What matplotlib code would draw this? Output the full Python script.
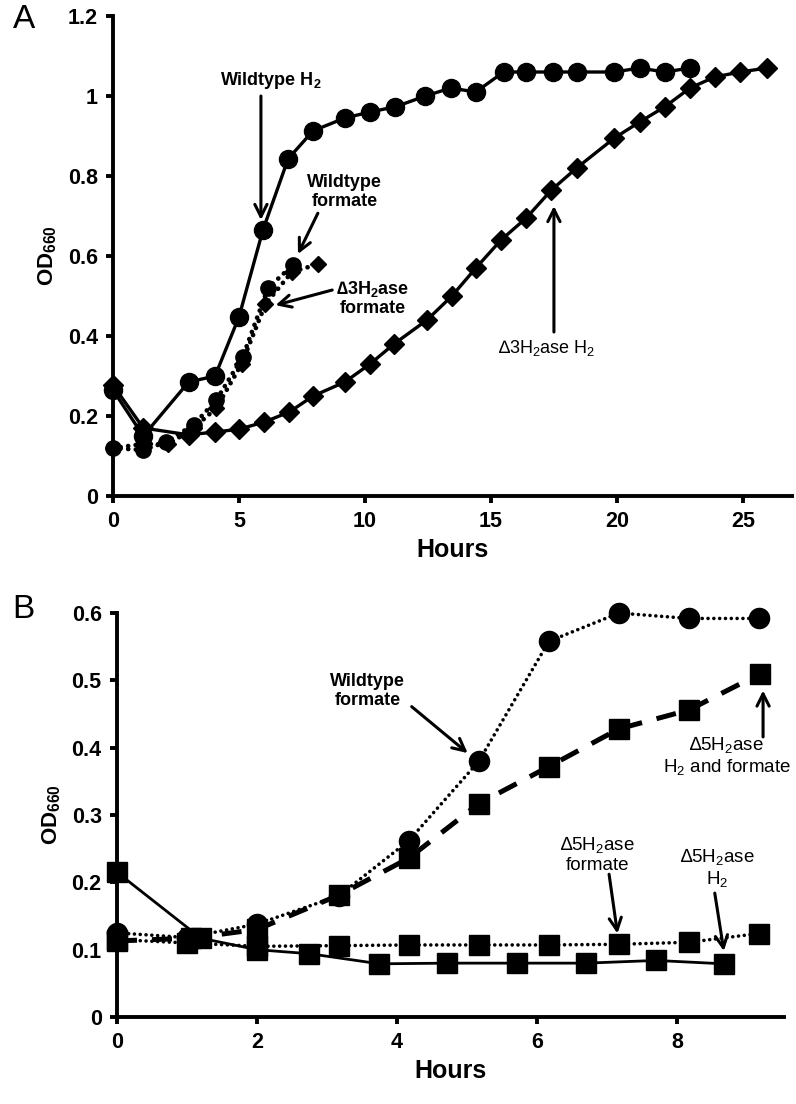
import numpy as np
import matplotlib
matplotlib.use("Agg")
import matplotlib.pyplot as plt
from matplotlib.ticker import FuncFormatter

plt.rcParams['font.family'] = ['Liberation Sans', 'DejaVu Sans']
plt.rcParams['mathtext.default'] = 'regular'

# ---- Panel A data (hours, OD660) ----
wt_h2_hours = [0, 1.2, 3.0, 4.05, 5.0, 5.95, 6.95, 7.94, 9.2, 10.2, 11.2, 12.4, 13.4, 14.4,
               15.5, 16.4, 17.45, 18.4, 19.9, 20.9, 21.9, 22.9]
wt_h2_od = [0.265, 0.15, 0.285, 0.30, 0.448, 0.665, 0.843, 0.913, 0.945, 0.96, 0.973, 1.0, 1.02, 1.01,
            1.06, 1.06, 1.06, 1.06, 1.06, 1.07, 1.06, 1.07]

d3_h2_hours = [0, 1.2, 3.0, 4.05, 5.0, 6.0, 7.0, 7.94, 9.2, 10.2, 11.15, 12.46, 13.45, 14.4, 15.4,
               16.4, 17.4, 18.4, 19.9, 20.9, 21.9, 22.9, 23.9, 24.9, 25.95]
d3_h2_od = [0.277, 0.17, 0.153, 0.16, 0.167, 0.185, 0.21, 0.25, 0.285, 0.33, 0.38, 0.44, 0.50, 0.57, 0.64,
            0.695, 0.765, 0.82, 0.895, 0.935, 0.973, 1.02, 1.048, 1.06, 1.07]

wt_fmt_hours = [0, 1.2, 2.1, 3.2, 4.1, 5.15, 6.15, 7.15]
wt_fmt_od = [0.12, 0.115, 0.135, 0.178, 0.24, 0.348, 0.52, 0.578]

d3_fmt_hours = [0, 1.2, 2.2, 3.2, 4.1, 5.1, 6.05, 7.1, 8.15]
d3_fmt_od = [0.12, 0.13, 0.13, 0.17, 0.22, 0.33, 0.48, 0.56, 0.58]

# ---- Panel B data ----
b_wt_fmt_hours = [0, 1.0, 2.0, 3.17, 4.17, 5.17, 6.17, 7.17, 8.17, 9.17]
b_wt_fmt_od = [0.125, 0.118, 0.138, 0.18, 0.262, 0.38, 0.558, 0.600, 0.592, 0.592]

b_d5_both_hours = [0, 1.05, 2.0, 3.17, 4.17, 5.17, 6.17, 7.17, 8.17, 9.19]
b_d5_both_od = [0.113, 0.117, 0.13, 0.181, 0.236, 0.317, 0.372, 0.428, 0.456, 0.51]

b_d5_fmt_hours = [0, 1.0, 2.0, 3.17, 4.17, 5.17, 6.17, 7.17, 8.17, 9.17]
b_d5_fmt_od = [0.115, 0.110, 0.105, 0.106, 0.107, 0.107, 0.107, 0.108, 0.111, 0.124]

b_d5_h2_hours = [0, 1.2, 2.0, 2.75, 3.75, 4.72, 5.72, 6.7, 7.7, 8.67]
b_d5_h2_od = [0.215, 0.117, 0.100, 0.094, 0.079, 0.080, 0.080, 0.080, 0.084, 0.079]

a_xticks = [0, 5, 10, 15, 20, 25]
a_yticks = [0, 0.2, 0.4, 0.6, 0.8, 1.0, 1.2]
b_xticks = [0, 2, 4, 6, 8]
b_yticks = [0, 0.1, 0.2, 0.3, 0.4, 0.5, 0.6]

DOT = (0, (0.01, 1.6))


def style_axes(ax):
    for s in ['top', 'right']:
        ax.spines[s].set_visible(False)
    for s in ['left', 'bottom']:
        ax.spines[s].set_linewidth(2.8)
    ax.tick_params(direction='out', length=5, width=2.8, labelsize=15.5, pad=6)
    for lab in ax.get_xticklabels() + ax.get_yticklabels():
        lab.set_fontweight('bold')
    ax.yaxis.set_major_formatter(FuncFormatter(lambda v, p: f"{v:g}"))


def arrow(ax, tail, tip):
    ax.annotate('', xy=tip, xytext=tail,
                arrowprops=dict(arrowstyle='->', lw=2.2, color='black',
                                mutation_scale=22, shrinkA=0, shrinkB=0))


fig = plt.figure(figsize=(7.96, 11.04), dpi=100)

# ---------------- Panel A ----------------
axA = fig.add_axes([0.142, 0.5507, 0.853, 0.4348])
axA.plot(wt_h2_hours, wt_h2_od, '-', color='black', lw=2.4, marker='o', ms=13, clip_on=False)
axA.plot(d3_h2_hours, d3_h2_od, '-', color='black', lw=2.4, marker='D', ms=10, clip_on=False)
axA.plot(wt_fmt_hours, wt_fmt_od, linestyle=DOT, dash_capstyle='round', color='black',
         lw=3.4, marker='o', ms=11, clip_on=False)
axA.plot(d3_fmt_hours, d3_fmt_od, linestyle=DOT, dash_capstyle='round', color='black',
         lw=3.4, marker='D', ms=8, clip_on=False)
axA.set_xlim(0, 26.95)
axA.set_ylim(0, 1.2)
axA.set_xticks(a_xticks)
axA.set_yticks(a_yticks)
style_axes(axA)
axA.set_xlabel('Hours', fontsize=18, fontweight='bold', labelpad=4)
axA.set_ylabel('OD$_{660}$', fontsize=16, fontweight='bold', labelpad=6)

axA.text(6.25, 1.04, 'Wildtype H$_2$', ha='center', va='center', fontsize=13, fontweight='bold')
arrow(axA, (5.87, 1.00), (5.87, 0.69))
axA.text(9.2, 0.76, 'Wildtype\nformate', ha='center', va='center', fontsize=13,
         fontweight='bold', linespacing=1.15)
arrow(axA, (8.13, 0.707), (7.34, 0.605))
axA.text(10.3, 0.495, '\u22063H$_2$ase\nformate', ha='center', va='center', fontsize=13,
         fontweight='bold', linespacing=1.15)
arrow(axA, (8.7, 0.515), (6.45, 0.477))
axA.text(17.2, 0.37, '\u22063H$_2$ase H$_2$', ha='center', va='center', fontsize=13)
arrow(axA, (17.5, 0.41), (17.5, 0.725))

# ---------------- Panel B ----------------
axB = fig.add_axes([0.147, 0.0788, 0.838, 0.3659])
axB.plot(b_wt_fmt_hours, b_wt_fmt_od, linestyle=DOT, dash_capstyle='round', color='black',
         lw=2.6, marker='o', ms=14.5, clip_on=False)
axB.plot(b_d5_both_hours, b_d5_both_od, linestyle=(0, (4, 3)), color='black',
         lw=3.6, marker='s', ms=14.5, clip_on=False)
axB.plot(b_d5_fmt_hours, b_d5_fmt_od, linestyle=DOT, dash_capstyle='round', color='black',
         lw=2.6, marker='s', ms=14.5, clip_on=False)
axB.plot(b_d5_h2_hours, b_d5_h2_od, '-', color='black', lw=2.0, marker='s', ms=14.5, clip_on=False)
axB.set_xlim(0, 9.53)
axB.set_ylim(0, 0.6)
axB.set_xticks(b_xticks)
axB.set_yticks(b_yticks)
style_axes(axB)
axB.set_xlabel('Hours', fontsize=18, fontweight='bold', labelpad=4)
axB.set_ylabel('OD$_{660}$', fontsize=16, fontweight='bold', labelpad=6)

axB.text(3.58, 0.484, 'Wildtype\nformate', ha='center', va='center', fontsize=13,
         fontweight='bold', linespacing=1.15)
arrow(axB, (4.21, 0.461), (5.01, 0.392))
axB.text(8.71, 0.388, '\u22065H$_2$ase\nH$_2$ and formate', ha='center', va='center',
         fontsize=13.5, linespacing=1.15)
arrow(axB, (9.23, 0.416), (9.23, 0.485))
axB.text(6.87, 0.242, '\u22065H$_2$ase\nformate', ha='center', va='center', fontsize=13.5,
         linespacing=1.15)
arrow(axB, (7.03, 0.212), (7.15, 0.124))
axB.text(8.58, 0.222, '\u22065H$_2$ase\nH$_2$', ha='center', va='center', fontsize=13.5,
         linespacing=1.15)
arrow(axB, (8.54, 0.184), (8.67, 0.098))

fig.text(0.016, 0.982, 'A', fontsize=24, ha='left', va='center')
fig.text(0.016, 0.448, 'B', fontsize=24, ha='left', va='center')

fig.savefig('out.png', dpi=100)
